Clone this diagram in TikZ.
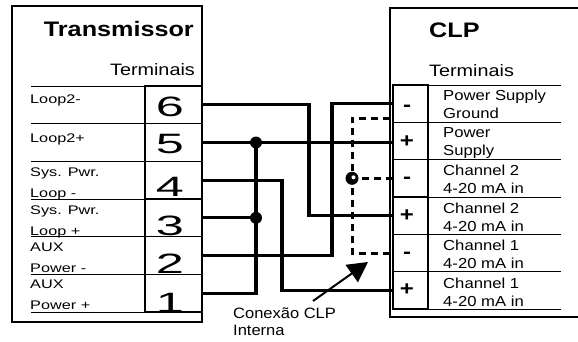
\documentclass[tikz,border=0pt]{standalone}
\usepackage{fontspec}
\setmainfont{Liberation Sans}
\newfontfamily\fwideT[FakeStretch=1.2]{Liberation Sans}
\newfontfamily\fnum[FakeStretch=1.8]{Liberation Sans}
\newfontfamily\flab[FakeStretch=1.3]{Liberation Sans}
\newfontfamily\fclp[FakeStretch=1.15]{Liberation Sans}
\newfontfamily\fconn[FakeStretch=1.1]{Liberation Sans}
\usetikzlibrary{arrows.meta,calc}
\begin{document}
\begin{tikzpicture}[x=1pt,y=-1pt,
  box/.style={line width=2pt},
  tcell/.style={draw,line width=1.5pt,minimum width=57pt,minimum height=37.67pt,inner sep=0pt,outer sep=0pt},
  ccell/.style={draw,line width=1.5pt,minimum width=35pt,minimum height=37.33pt,inner sep=0pt,outer sep=0pt},
  rowline/.style={line width=0.9pt},
  wire/.style={line width=3.2pt},
  iwire/.style={line width=3pt,dash pattern=on 7pt off 5pt},
  dot/.style={fill=black,draw=none},
  title/.style={font=\fwideT\fontsize{21}{25}\selectfont\bfseries,inner sep=0pt},
  sub/.style={font=\fwideT\fontsize{16.5}{20}\selectfont,inner sep=0pt},
  num/.style={font=\fnum\fontsize{28}{30}\selectfont,inner sep=0pt,anchor=base},
  lab/.style={font=\flab\fontsize{12.5}{21}\selectfont,inner sep=0pt,anchor=base west,align=left},
  clab/.style={font=\fclp\fontsize{14.5}{17.5}\selectfont,inner sep=0pt,anchor=base west,align=left},
  sign/.style={font=\fwideT\fontsize{20}{22}\selectfont\bfseries,inner sep=0pt,anchor=base},
  conn/.style={font=\fconn\fontsize{15}{17}\selectfont,inner sep=0pt,anchor=base west,align=left}
]
\useasboundingbox (0,0) rectangle (578,341);

% Transmissor box
\draw[box] (12,6) rectangle (202,322);
\node[title,anchor=base east] (ttitle) at (194,36) {Transmissor};
\node[sub,anchor=base east] (tterm) at (195,75) {Terminais};

\node[tcell] (t6) at (173.5,104.8) {};
\node[tcell] (t5) at (173.5,142.5) {};
\node[tcell] (t4) at (173.5,180.2) {};
\node[tcell] (t3) at (173.5,217.8) {};
\node[tcell] (t2) at (173.5,255.5) {};
\node[tcell] (t1) at (173.5,293.2) {};
\foreach \c in {t6,t5,t4,t3,t2,t1}{
  \draw[rowline] (\c.north west) -- ++(-114,0);
  \draw[rowline] (\c.south west) -- ++(-114,0);
}
\node[num] (n6) at (170,116) {6};
\node[num] (n5) at (170,153) {5};
\node[num] (n4) at (170,196) {4};
\node[num] (n3) at (170,235) {3};
\node[num] (n2) at (170,273) {2};
\node[num] (n1) at (170,312) {1};

% multi-line labels are anchored at the baseline of their last line
\node[lab] (l6) at (30,103) {Loop2-};
\node[lab] (l5) at (30,142) {Loop2+};
\node[lab] (l4) at (30,197) {Sys. Pwr.\\Loop -};
\node[lab] (l3) at (30,235) {Sys. Pwr.\\Loop +};
\node[lab] (l2) at (30,272) {AUX\\Power -};
\node[lab] (l1) at (30,309) {AUX\\Power +};

% CLP box
\draw[box] (582,7.5) -- (390,7.5) -- (390,317) -- (582,317);
\node[title,anchor=base west] (ctitle) at (429,37) {CLP};
\node[sub,anchor=base west] (cterm) at (429,76) {Terminais};

\node[ccell] (c1) at (410.5,103.7) {};
\node[ccell] (c2) at (410.5,141.0) {};
\node[ccell] (c3) at (410.5,178.3) {};
\node[ccell] (c4) at (410.5,215.7) {};
\node[ccell] (c5) at (410.5,253.0) {};
\node[ccell] (c6) at (410.5,290.3) {};
\foreach \c in {c1,c2,c3,c4,c5,c6}{
  \draw[rowline] (\c.north east) -- ++(133,0);
  \draw[rowline] (\c.south east) -- ++(133,0);
}
\node[sign] (s1) at (407,111.4) {-};
\node[sign] (s2) at (407,147) {+};
\node[sign] (s3) at (407,183.4) {-};
\node[sign] (s4) at (407,221) {+};
\node[sign] (s5) at (407,258.4) {-};
\node[sign] (s6) at (407,295) {+};

\node[clab] (d1) at (443,118) {Power Supply\\Ground};
\node[clab] (d2) at (443,155) {Power\\Supply};
\node[clab] (d3) at (443,193) {Channel 2\\4-20 mA in};
\node[clab] (d4) at (443,231) {Channel 2\\4-20 mA in};
\node[clab] (d5) at (443,268) {Channel 1\\4-20 mA in};
\node[clab] (d6) at (443,306) {Channel 1\\4-20 mA in};

% wires
\coordinate (xA) at (309,0);
\coordinate (xB) at (332,0);
\coordinate (xJ) at (256,0);
\coordinate (xC) at (282,0);
\coordinate (xD) at (352,0);
\draw[wire] (t6.east) -- (t6.east -| xA) -- (xA |- c4.west) -- (c4.west);
\draw[wire] (c1.west) -- (c1.west -| xB) -- (xB |- t2.east) -- (t2.east);
\draw[wire] (t5.east) -- (t5.east -| c2.west);
\draw[wire] (t5.east -| xJ) -- (t1.east -| xJ) -- (t1.east);
\draw[wire] (t3.east) -- (t3.east -| xJ);
\draw[wire] (t4.east) -- (t4.east -| xC) -- (xC |- c6.west) -- (c6.west);
\fill[dot] (t5.east -| xJ) circle (6);
\fill[dot] (t3.east -| xJ) circle (6);

% internal connection
\coordinate (dT) at ($(c1.south west)+(-3,-4)$);
\draw[iwire] (dT) -| (xD |- c5.west) -- (c5.west);
\draw[iwire] (c3.west) -- (c3.west -| xD);
\coordinate (jD) at (c3.west -| xD);
\fill[dot] (jD) circle (6.5);
\fill[white] ($(jD)+(1.5,-1)$) circle (2);

\node[conn] (lbl) at (233,335) {Conexão CLP\\Interna};
\coordinate (tail) at ($(lbl.base west)+(80,-34)$);
\coordinate (tip) at (368,262);
\draw[line width=2pt,-{Triangle[length=20pt,width=21pt]}] (tail) -- (tip);
\end{tikzpicture}
\end{document}
